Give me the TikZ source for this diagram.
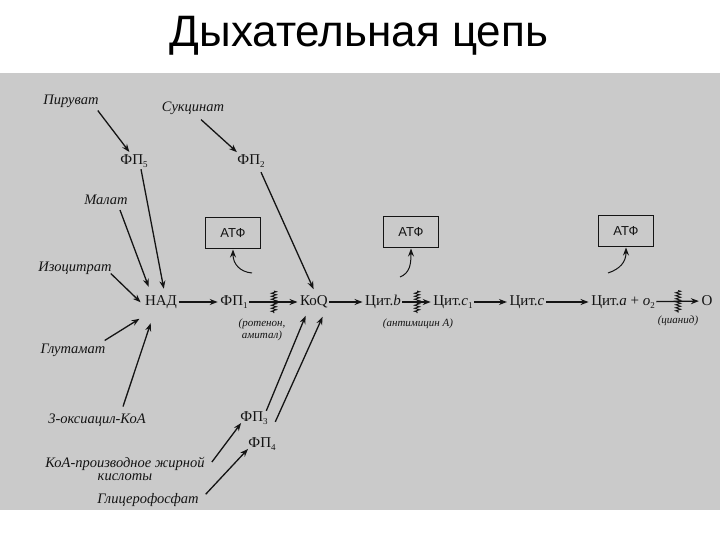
\documentclass[tikz,border=0pt]{standalone}
\usepackage{fontspec}
\setmainfont{Liberation Serif}
\newfontfamily\titlefont{Liberation Sans}
\setsansfont{Liberation Sans}
\usetikzlibrary{arrows.meta,decorations.pathmorphing,calc}
\definecolor{scan}{RGB}{202,202,202}
\definecolor{ink}{RGB}{20,20,20}
\newcommand\lowidx[1]{\raisebox{-0.45ex}{\fontsize{9}{9}\selectfont #1}}
\begin{document}
\begin{tikzpicture}[x=1pt,y=-1pt,
  lab/.style={text=ink, font=\fontsize{14.5}{16}\selectfont\itshape, inner sep=1pt},
  chainnode/.style={text=ink, font=\fontsize{15}{17}\selectfont, inner sep=1.5pt},
  small/.style={text=ink, font=\fontsize{11}{12}\selectfont\itshape, inner sep=0pt, align=center},
  atpbox/.style={draw=ink, line width=1pt, minimum width=55pt, minimum height=30pt, text=ink, font=\fontsize{13}{15}\selectfont\sffamily, inner sep=0pt},
  arr/.style={draw=ink, line width=1.3pt, -{Stealth[length=8pt,width=6pt]}, shorten >=1pt},
  inhib/.style={draw=ink, line width=0.9pt, decorate, decoration={zigzag, amplitude=2.5pt, segment length=3pt}},
]
\useasboundingbox (0,0) rectangle (720,540);
\fill[white] (0,0) rectangle (720,540);
\fill[scan] (0,73) rectangle (720,510);

\node[anchor=base, font=\titlefont\fontsize{44}{48}\selectfont] (title) at (359,47) {Дыхательная цепь};

% source labels
\node[lab] (pir) at (71,101) {Пируват};
\node[lab] (suc) at (193,108) {Сукцинат};
\node[chainnode] (fp5) at (134,161) {ФП\lowidx{5}};
\node[chainnode] (fp2) at (251,161) {ФП\lowidx{2}};
\node[lab] (mal) at (106,200) {Малат};
\node[lab] (izo) at (75,268) {Изоцитрат};
\node[lab] (glu) at (73,350) {Глутамат};
\node[lab] (oks) at (97,420) {3-оксиацил-КоА};
\node[chainnode] (fp3) at (254,418) {ФП\lowidx{3}};
\node[chainnode] (fp4) at (262,444) {ФП\lowidx{4}};
\node[lab, align=center] (koa) at (125,469) {КоА-производное жирной\\[-3pt]кислоты};
\node[lab] (gly) at (148,500) {Глицерофосфат};

% main chain
\node[chainnode] (nad) at (161,302) {НАД};
\node[chainnode] (fp1) at (234,302) {ФП\lowidx{1}};
\node[chainnode] (koq) at (314,302) {КоQ};
\node[chainnode] (cb) at (383,302) {Цит.\textit{b}};
\node[chainnode] (cc1) at (453,302) {Цит.\textit{c}\lowidx{1}};
\node[chainnode] (cc) at (527,302) {Цит.\textit{c}};
\node[chainnode] (ca) at (623,302) {Цит.\textit{a} + \textit{o}\lowidx{2}};
\node[chainnode] (o) at (707,301) {O};

% inhibitor labels
\node[small] (rot) at (262,330) {(ротенон,\\амитал)};
\node[small] (ant) at (418,324) {(антимицин \textit{А})};
\node[small] (cia) at (678,321) {(цианид)};

% ATP boxes
\node[atpbox] (atp1) at (233,233) {АТФ};
\node[atpbox] (atp2) at (411,232) {АТФ};
\node[atpbox] (atp3) at (626,231) {АТФ};

% source arrows
\draw[arr] ([xshift=-2pt,yshift=-2pt]pir.south east) -- ([xshift=-4pt]fp5.north);
\draw[arr] ([xshift=8pt,yshift=-4pt]suc.south) -- ([xshift=2pt]fp2.north west);
\draw[arr] ([xshift=7pt]fp5.south) -- ([xshift=3pt,yshift=4pt]nad.north);
\draw[arr] ([xshift=10pt,yshift=-3pt]fp2.south) -- ([yshift=4pt]koq.north);
\draw[arr] ([xshift=14pt,yshift=-4pt]mal.south) -- ([xshift=-12pt,yshift=6pt]nad.north);
\draw[arr] ([xshift=-2pt,yshift=2pt]izo.south east) -- ([xshift=-2pt,yshift=-1pt]nad.west);
\draw[arr] ([xshift=-2pt,yshift=2pt]glu.north east) -- ([xshift=-3pt,yshift=-8pt]nad.south west);
\draw[arr] ([xshift=26pt,yshift=6pt]oks.north) -- ([xshift=-10pt,yshift=-12pt]nad.south);
\draw[arr] ([xshift=-3pt,yshift=-1pt]fp3.north east) -- ([xshift=-8pt,yshift=-5pt]koq.south);
\draw[arr] ([xshift=-2pt,yshift=14pt]fp4.north east) -- ([xshift=9pt,yshift=-6pt]koq.south);
\draw[arr] ([xshift=6pt,yshift=-6pt]koa.north east) -- ([xshift=3pt,yshift=4pt]fp3.south west);
\draw[arr] ([xshift=6pt,yshift=-2pt]gly.north east) -- ([xshift=2pt,yshift=4pt]fp4.south west);

% chain arrows
\draw[arr] (nad) -- (fp1);
\draw[arr] (fp1) -- (koq);
\draw[arr] (koq) -- (cb);
\draw[arr] (cb) -- (cc1);
\draw[arr] (cc1) -- (cc);
\draw[arr] (cc) -- (ca);
\draw[arr] (ca) -- (o);

% inhibitor marks
\draw[inhib] ($(fp1.east)!0.5!(koq.west)+(0,-11)$) -- ($(fp1.east)!0.5!(koq.west)+(0,11)$);
\draw[inhib] ($(cb.east)!0.5!(cc1.west)+(0,-11)$) -- ($(cb.east)!0.5!(cc1.west)+(0,11)$);
\draw[inhib] ($(ca.east)!0.5!(o.west)+(0,-11)$) -- ($(ca.east)!0.5!(o.west)+(0,11)$);

% ATP arrows
\coordinate (s1) at (252,273);
\coordinate (s2) at (400,277);
\coordinate (s3) at (608,273);
\draw[arr, line width=1pt] (s1) .. controls (240,272) and (233,264) .. (atp1.south);
\draw[arr, line width=1pt] (s2) .. controls (410,273) and (411,264) .. (atp2.south);
\draw[arr, line width=1pt] (s3) .. controls (620,269) and (626,262) .. (atp3.south);
\end{tikzpicture}
\end{document}
